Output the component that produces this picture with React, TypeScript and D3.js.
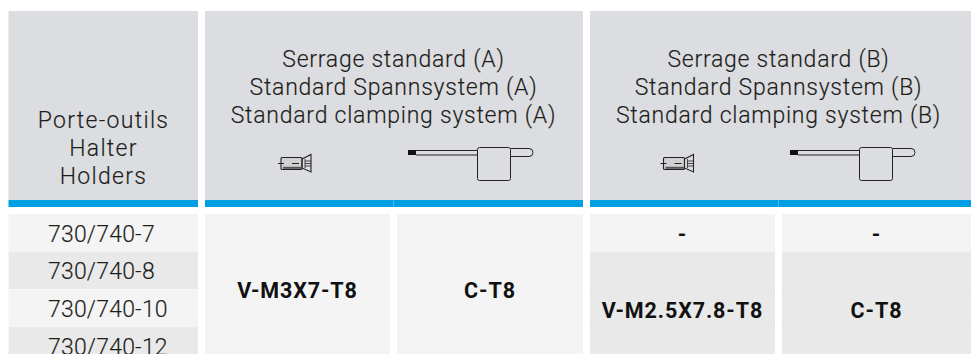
import React from 'react';
import * as d3 from 'd3';

const width = 971;
const height = 354;

const holderTitle = ['Porte-outils', 'Halter', 'Holders'];
const titleA = ['Serrage standard (A)', 'Standard Spannsystem (A)', 'Standard clamping system (A)'];
const titleB = ['Serrage standard (B)', 'Standard Spannsystem (B)', 'Standard clamping system (B)'];
const holders = ['730/740-7', '730/740-8', '730/740-10', '730/740-12'];

// [label, first row, last row] for the merged cells of each column
const screwA = [['V-M3X7-T8', 0, 3]];
const keyA = [['C-T8', 0, 3]];
const screwB = [['-', 0, 0], ['V-M2.5X7.8-T8', 1, 3]];
const keyB = [['-', 0, 0], ['C-T8', 1, 3]];

const columns = [
  { cells: screwA, x0: 205, x1: 390 },
  { cells: keyA, x0: 397, x1: 583 },
  { cells: screwB, x0: 590, x1: 775 },
  { cells: keyB, x0: 782, x1: 971 },
];

const rowY = d3.scaleBand<string>().domain(holders).range([214, 364.4]);
const rowFill = ['#f4f4f4', '#e9e9e9'];
const faintLine = ['#f0f0f0', '#e6e6e6'];
const headFill = '#dcdde0';
const blue = '#009fe3';
const ink = '#1d1d1b';
const font = 'Roboto, sans-serif';

const HeadLines = ({ lines, x, y, spacing }: { lines: string[]; x: number; y: number; spacing: number }) => (
  <text textAnchor="middle" fontFamily={font} fontSize={23} fontWeight={300} letterSpacing={spacing} fill={ink} stroke={ink} strokeWidth={0.15}>
    {lines.map((l, i) => (
      <tspan key={l} x={x} y={y + i * 28}>{l}</tspan>
    ))}
  </text>
);

const ScrewIcon = ({ dx }: { dx: number }) => (
  <g transform={`translate(${dx},0)`} fill="none" stroke="#222" strokeWidth={1.1}>
    <rect x={281} y={157.5} width={21} height={12} rx={1} fill="#d0d1d3" />
    <path d="M302 159 L311 154.5 V172 L302 168 Z" />
    <path d="M305 159 V168 M305 161 H311 M305 163.5 H311 M305 166 H311" strokeWidth={0.8} />
    <path d="M278 163.5 H284 M292 163.5 H299" />
    <path d="M283 167.8 H302" stroke="#555" strokeWidth={2} />
  </g>
);

const KeyIcon = ({ dx }: { dx: number }) => (
  <g transform={`translate(${dx},0)`} fill="none" stroke="#222" strokeWidth={1}>
    <rect x={408} y={150} width={8} height={5} fill="#111" stroke="none" />
    <path d="M416 150.5 H477.5 M416 155 H477.5" />
    <rect x={477.5} y={147.5} width={33} height={33} rx={2} />
    <path d="M510.5 148.5 H529 A4 4 0 0 1 529 156.5 H510.5" />
  </g>
);

const App = () => (
  <svg
    width={width}
    height={height}
    viewBox={`0 0 ${width} ${height}`}
    style={{ position: 'absolute', left: 0, top: 0, display: 'block', background: '#fff' }}
  >
    {/* header blocks */}
    {[[8.5, 198], [205, 583], [590, 971]].map(([x0, x1]) => (
      <g key={x0}>
        <rect x={x0} y={11} width={x1 - x0} height={189} fill={headFill} />
        <rect x={x0} y={200} width={x1 - x0} height={7} fill={blue} />
      </g>
    ))}
    <rect x={393} y={200} width={0.6} height={7} fill="#7cc8ee" />
    <rect x={778} y={200} width={0.6} height={7} fill="#7cc8ee" />

    <HeadLines lines={holderTitle} x={103.5} y={128} spacing={1.3} />
    <HeadLines lines={titleA} x={393.5} y={66.5} spacing={0.75} />
    <HeadLines lines={titleB} x={778.5} y={66.5} spacing={0.75} />
    <ScrewIcon dx={0} />
    <KeyIcon dx={0} />
    <ScrewIcon dx={382.5} />
    <KeyIcon dx={382} />

    {/* holder rows */}
    {holders.map((h, i) => (
      <g key={h}>
        <rect x={8.5} y={rowY(h)} width={189.5} height={rowY.bandwidth()} fill={rowFill[i % 2]} />
        <text
          x={48}
          y={(rowY(h) as number) + 27.8}
          fontFamily={font}
          fontSize={23}
          fontWeight={300}
          letterSpacing={0.2}
          fill={ink}
          stroke={ink}
          strokeWidth={0.15}
        >
          {h}
        </text>
      </g>
    ))}

    {/* merged cells */}
    {columns.map((c) =>
      c.cells.map(([label, from, to]) => {
        const first = from as number;
        const last = to as number;
        const y0 = rowY(holders[first]) as number;
        const y1 = (rowY(holders[last]) as number) + rowY.bandwidth();
        // the merged block takes the fill of its first row, text stays centred on the visible rows
        const mid = first === last ? y0 + 28 : first === 0 ? 298 : 317.5;
        return (
          <g key={`${c.x0}-${first}`}>
            <rect x={c.x0} y={y0} width={c.x1 - c.x0} height={y1 - y0} fill={rowFill[first % 2]} />
            {holders.slice(first + 1, last + 1).map((h) => (
              <rect key={h} x={c.x0} y={rowY(h)} width={c.x1 - c.x0} height={1} fill={faintLine[first % 2]} />
            ))}
            <text
              x={(c.x0 + c.x1) / 2}
              y={mid}
              textAnchor="middle"
              fontFamily={font}
              fontSize={21.5}
              fontWeight={700}
              letterSpacing={0.9}
              fill="#111"
            >
              {label as string}
            </text>
          </g>
        );
      })
    )}
  </svg>
);

export default App;
